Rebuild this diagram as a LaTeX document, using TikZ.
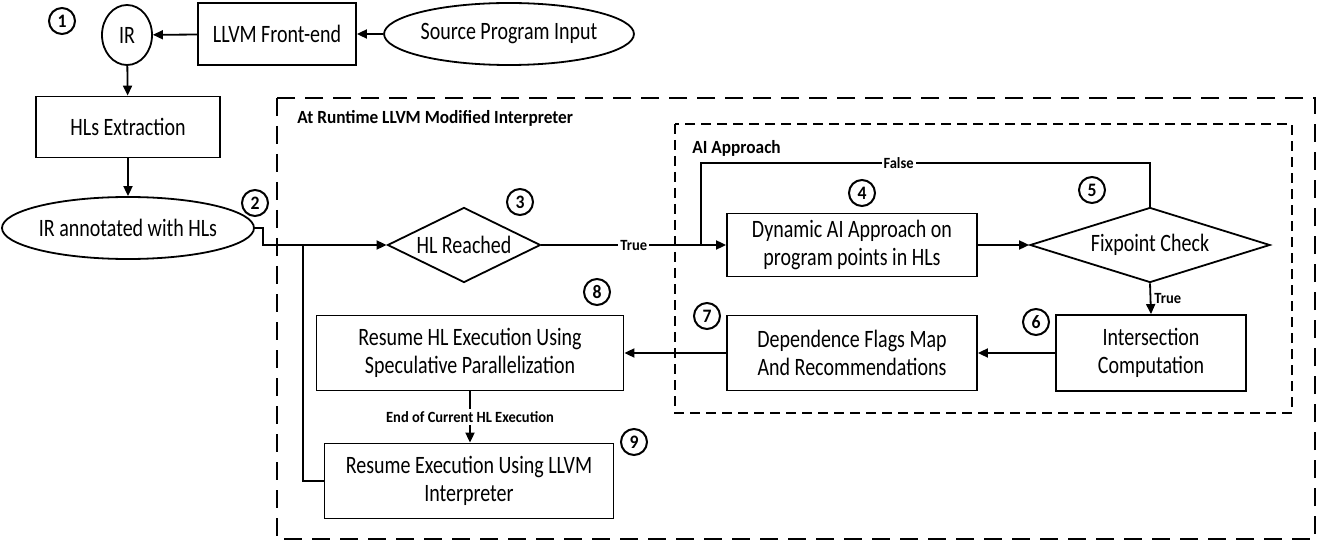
\documentclass[tikz,border=0pt]{standalone}
\usepackage{fontspec}
\setmainfont{Carlito}[FakeStretch=0.8]
\newfontfamily\lblfont{Carlito}[FakeStretch=0.93]
\usetikzlibrary{shapes.geometric,arrows.meta}

\begin{document}
\begin{tikzpicture}[x=0.5pt,y=-0.5pt,
    box/.style={draw, line width=0.9pt, align=center, inner sep=0pt,
      font=\fontsize{12.5}{14}\selectfont},
    oval/.style={ellipse, draw, line width=0.9pt, inner sep=0pt,
      font=\fontsize{12.5}{14}\selectfont},
    cond/.style={diamond, draw, line width=0.9pt, inner sep=0pt,
      font=\fontsize{12.5}{14}\selectfont},
    num/.style={circle, draw, line width=1pt, minimum size=13pt, inner sep=0pt,
      font=\lblfont\bfseries\fontsize{9.5}{10}\selectfont},
    lbl/.style={fill=white, inner sep=1pt,
      font=\lblfont\bfseries\fontsize{7.8}{8}\selectfont},
    title/.style={anchor=west, inner sep=0pt,
      font=\lblfont\bfseries\fontsize{9.3}{10}\selectfont},
    flow/.style={line width=0.9pt, -{Triangle[length=5pt,width=4.5pt]}},
    link/.style={line width=0.9pt}]
  \useasboundingbox (0,0) rectangle (1327,545);

  % containers
  \draw[line width=1pt, dash pattern=on 9pt off 5pt] (277,98) rectangle (1315,539);
  \draw[line width=0.9pt, dash pattern=on 5pt off 3pt] (675,124) rectangle (1292,413);
  \node[title] (rtitle) at (297,118) {At Runtime LLVM Modified Interpreter};
  \node[title] (atitle) at (692,148) {AI Approach};

  % front part
  \node[oval, minimum width=25pt, minimum height=30pt] (ir) at (127,35) {IR};
  \node[box, minimum width=79pt, minimum height=31pt] (fe) at (277,34) {LLVM Front-end};
  \node[oval, minimum width=118pt, minimum height=31pt] (src) at (509,34) {Source Program Input};
  \node[box, minimum width=92pt, minimum height=30.5pt] (hle) at (128,127) {HLs Extraction};
  \node[oval, minimum width=119.5pt, minimum height=31pt] (irhl) at (128,228) {IR annotated with HLs};

  % interpreter
  \node[cond, aspect=2, minimum width=76.5pt, minimum height=37.5pt] (reach) at (464,245) {HL Reached};
  \node[box, minimum width=125pt, minimum height=31.5pt] (dyn) at (852,245) {Dynamic AI Approach on\\program points in HLs};
  \node[cond, aspect=3.2, minimum width=120pt, minimum height=37.5pt] (fix) at (1150,245) {Fixpoint Check};
  \node[box, minimum width=95pt, minimum height=38pt] (inter) at (1151,353) {Intersection\\Computation};
  \node[box, minimum width=125pt, minimum height=37.5pt] (dep) at (852,353) {Dependence Flags Map\\And Recommendations};
  \node[box, minimum width=153.5pt, minimum height=37.5pt] (rhl) at (470,353) {Resume HL Execution Using\\Speculative Parallelization};
  \node[box, minimum width=144.5pt, minimum height=37.5pt] (rex) at (469,481) {Resume Execution Using LLVM\\Interpreter};

  % step numbers
  \node[num] (n1) at (62,21) {1};
  \node[num] (n2) at (255,203) {2};
  \node[num] (n3) at (520,202) {3};
  \node[num] (n4) at (862,193) {4};
  \node[num] (n5) at (1092,190) {5};
  \node[num] (n6) at (1036,322) {6};
  \node[num] (n7) at (707,316) {7};
  \node[num] (n8) at (597,292) {8};
  \node[num] (n9) at (634,442) {9};

  \coordinate (fjoin) at (701,245);
  \coordinate (ftop) at (701,163);
  \coordinate (bjoin) at (303,245);

  \draw[flow] (src) to (fe);
  \draw[flow] (fe) to (ir);
  \draw[flow] (ir) to (hle);
  \draw[flow] (hle) to (irhl);
  \draw[flow] (irhl.east) -- ++(8.5,0) |- (reach.west);
  \draw[flow] (reach.east) -- node[lbl] {True} (dyn.west);
  \draw[flow] (dyn.east) -- (fix.west);
  \draw[link] (fix.north) |- node[lbl, pos=0.78] {False} (ftop) -- (fjoin);
  \draw[flow] (fix.south) -- node[lbl, right, fill=none, inner sep=1.5pt] {True} (inter.north);
  \draw[flow] (inter.west) -- (dep.east);
  \draw[flow] (dep.west) -- (rhl.east);
  \draw[flow] (rhl.south) -- node[lbl] {End of Current HL Execution} (rhl.south |- rex.north);
  \draw[link] (rex.west) -| (bjoin);
\end{tikzpicture}
\end{document}
